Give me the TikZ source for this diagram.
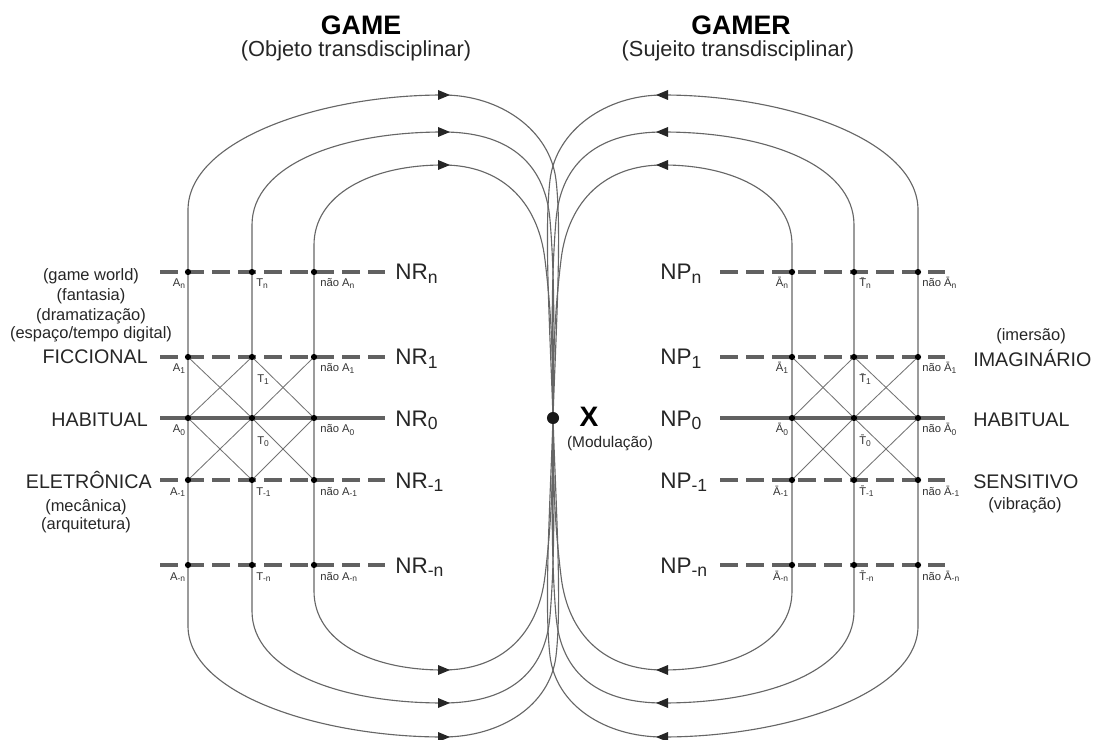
\documentclass[tikz,border=0pt]{standalone}
\usepackage{fontspec}
\setmainfont{Liberation Sans}
\def\dotat(#1){\fill (#1) circle (2.2pt);}
\def\tipright(#1,#2){\fill[black!85] (#1+7,#2) -- (#1-5,#2-5) -- (#1-5,#2+5) -- cycle;}
\def\tipleft(#1,#2){\fill[black!85] (#1-7,#2) -- (#1+5,#2-5) -- (#1+5,#2+5) -- cycle;}
\newcommand{\sublow}[1]{\raisebox{-2.5pt}{\fontsize{12.5}{13}\selectfont #1}}
\tikzset{
	level/.style={line width=2.6pt, color=black!62, dash pattern=on 12.5pt off 6pt},
	baseline0/.style={line width=2.6pt, color=black!62},
	field/.style={line width=0.8pt, color=black!60},
	cross/.style={line width=0.6pt, color=black!55},
	title/.style={font=\fontsize{19}{22}\selectfont\bfseries, inner sep=0pt},
	subtitle/.style={font=\fontsize{15.5}{18}\selectfont, text=black!85, inner sep=0pt},
	side/.style={font=\fontsize{14}{16}\selectfont, text=black!85, inner sep=0pt},
	note/.style={font=\fontsize{11.7}{13}\selectfont, text=black!85, inner sep=0pt},
	lvl/.style={font=\fontsize{16}{18}\selectfont, text=black!85, inner sep=0pt},
	tick/.style={font=\fontsize{8}{9}\selectfont, text=black!80, inner sep=0pt}
}

\begin{document}
\begin{tikzpicture}[x=0.025cm, y=-0.025cm]
			%%%%% START %%%%%
			\useasboundingbox (0,0) rectangle (1096,740);
			
			\coordinate (X) at (553,418);
			
			\coordinate (lAn) at (188,272); \coordinate (lTn) at (252,272); \coordinate (lNn) at (314,272);
			\coordinate (lA1) at (188,357); \coordinate (lT1) at (252,357); \coordinate (lN1) at (314,357);
			\coordinate (lA0) at (188,418); \coordinate (lT0) at (252,418); \coordinate (lN0) at (314,418);
			\coordinate (lAm1) at (188,480); \coordinate (lTm1) at (252,480); \coordinate (lNm1) at (314,480);
			\coordinate (lAmn) at (188,565); \coordinate (lTmn) at (252,565); \coordinate (lNmn) at (314,565);
			
			\coordinate (rAn) at (792,272); \coordinate (rTn) at (854,272); \coordinate (rNn) at (918,272);
			\coordinate (rA1) at (792,357); \coordinate (rT1) at (854,357); \coordinate (rN1) at (918,357);
			\coordinate (rA0) at (792,418); \coordinate (rT0) at (854,418); \coordinate (rN0) at (918,418);
			\coordinate (rAm1) at (792,480); \coordinate (rTm1) at (854,480); \coordinate (rNm1) at (918,480);
			\coordinate (rAmn) at (792,565); \coordinate (rTmn) at (854,565); \coordinate (rNmn) at (918,565);
			
			% titles
			\node[title, anchor=base] (game) at (361,35) {GAME};
			\node[subtitle, anchor=base] (gamesub) at (356,57) {(Objeto transdisciplinar)};
			\node[title, anchor=base] (gamer) at (741,35) {GAMER};
			\node[subtitle, anchor=base] (gamersub) at (738,57) {(Sujeito transdisciplinar)};
			
			% left loops
			\draw[field] (X) .. controls (556,330) and (562,230) .. (556,180)
				.. controls (550,130) and (500,95) .. (443,95)
				.. controls (320,95) and (188,140) .. (188,210) -- (188,626)
				.. controls (188,694) and (320,737) .. (443,737)
				.. controls (500,737) and (550,706) .. (556,656)
				.. controls (562,606) and (556,506) .. (X);
			\draw[field] (X) .. controls (554,340) and (555,280) .. (550,220)
				.. controls (545,160) and (505,132) .. (443,132)
				.. controls (340,132) and (252,165) .. (252,225) -- (252,611)
				.. controls (252,671) and (340,703) .. (443,703)
				.. controls (505,703) and (545,676) .. (550,616)
				.. controls (555,556) and (554,496) .. (X);
			\draw[field] (X) .. controls (553,350) and (551,310) .. (545,260)
				.. controls (538,200) and (500,165) .. (443,165)
				.. controls (370,165) and (314,195) .. (314,245) -- (314,591)
				.. controls (314,641) and (370,670) .. (443,670)
				.. controls (500,670) and (538,636) .. (545,576)
				.. controls (551,526) and (553,486) .. (X);
			
			% right loops
			\draw[field] (X) .. controls (550,330) and (544,230) .. (550,180)
				.. controls (556,130) and (606,95) .. (663,95)
				.. controls (786,95) and (918,140) .. (918,210) -- (918,626)
				.. controls (918,694) and (786,737) .. (663,737)
				.. controls (606,737) and (556,706) .. (550,656)
				.. controls (544,606) and (550,506) .. (X);
			\draw[field] (X) .. controls (552,340) and (551,280) .. (556,220)
				.. controls (561,160) and (601,132) .. (663,132)
				.. controls (766,132) and (854,165) .. (854,225) -- (854,611)
				.. controls (854,671) and (766,703) .. (663,703)
				.. controls (601,703) and (561,676) .. (556,616)
				.. controls (551,556) and (552,496) .. (X);
			\draw[field] (X) .. controls (553,350) and (555,310) .. (561,260)
				.. controls (568,200) and (606,165) .. (663,165)
				.. controls (736,165) and (792,195) .. (792,245) -- (792,591)
				.. controls (792,641) and (736,670) .. (663,670)
				.. controls (606,670) and (568,636) .. (561,576)
				.. controls (555,526) and (553,486) .. (X);
			
			\tipright(443,95); \tipright(443,132); \tipright(443,165);
			\tipright(443,670); \tipright(443,703); \tipright(443,737);
			\tipleft(663,95); \tipleft(663,132); \tipleft(663,165);
			\tipleft(663,670); \tipleft(663,703); \tipleft(663,737);
			
			% levels
			\draw[level] (160,272) -- (385,272);
			\draw[level] (160,357) -- (385,357);
			\draw[baseline0] (160,418) -- (385,418);
			\draw[level] (160,480) -- (385,480);
			\draw[level] (160,565) -- (385,565);
			
			\draw[level] (720,272) -- (945,272);
			\draw[level] (720,357) -- (945,357);
			\draw[baseline0] (720,418) -- (945,418);
			\draw[level] (720,480) -- (945,480);
			\draw[level] (720,565) -- (945,565);
			
			\draw[cross] (lA1) -- (lT0) -- (lNm1);
			\draw[cross] (lAm1) -- (lT0) -- (lN1);
			\draw[cross] (lA0) -- (lT1) -- (lN0);
			\draw[cross] (lA0) -- (lTm1) -- (lN0);
			
			\draw[cross] (rA1) -- (rT0) -- (rNm1);
			\draw[cross] (rAm1) -- (rT0) -- (rN1);
			\draw[cross] (rA0) -- (rT1) -- (rN0);
			\draw[cross] (rA0) -- (rTm1) -- (rN0);
			
			\dotat(lAn) \dotat(lTn) \dotat(lNn)
			\dotat(lA1) \dotat(lT1) \dotat(lN1)
			\dotat(lA0) \dotat(lT0) \dotat(lN0)
			\dotat(lAm1) \dotat(lTm1) \dotat(lNm1)
			\dotat(lAmn) \dotat(lTmn) \dotat(lNmn)
			\dotat(rAn) \dotat(rTn) \dotat(rNn)
			\dotat(rA1) \dotat(rT1) \dotat(rN1)
			\dotat(rA0) \dotat(rT0) \dotat(rN0)
			\dotat(rAm1) \dotat(rTm1) \dotat(rNm1)
			\dotat(rAmn) \dotat(rTmn) \dotat(rNmn)
			
			\fill[black!90] (X) circle (4.3pt);
			\node[title, font=\fontsize{20}{22}\selectfont\bfseries, anchor=base] (xlabel) at (589,427) {X};
			\node[note, font=\fontsize{11}{12}\selectfont, anchor=base] (modlabel) at (610,447) {(Modulação)};
			
			% level names
			\node[lvl, anchor=base west] (nrn) at (395,280) {NR\sublow{n}};
			\node[lvl, anchor=base west] (nr1) at (395,365) {NR\sublow{1}};
			\node[lvl, anchor=base west] (nr0) at (395,426) {NR\sublow{0}};
			\node[lvl, anchor=base west] (nrm1) at (395,488) {NR\sublow{-1}};
			\node[lvl, anchor=base west] (nrmn) at (395,573) {NR\sublow{-n}};
			\node[lvl, anchor=base west] (npn) at (660,280) {NP\sublow{n}};
			\node[lvl, anchor=base west] (np1) at (660,365) {NP\sublow{1}};
			\node[lvl, anchor=base west] (np0) at (660,426) {NP\sublow{0}};
			\node[lvl, anchor=base west] (npm1) at (660,488) {NP\sublow{-1}};
			\node[lvl, anchor=base west] (npmn) at (660,573) {NP\sublow{-n}};
			
			% left texts
			\node[note, anchor=base] (gw) at (91,281) {(game world)};
			\node[note, anchor=base] (fant) at (91,301) {(fantasia)};
			\node[note, anchor=base] (dram) at (91,321) {(dramatização)};
			\node[note, anchor=base] (espt) at (91,339) {(espaço/tempo digital)};
			\node[side, anchor=base east] (ficc) at (148,364) {FICCIONAL};
			\node[side, anchor=base east] (habl) at (148,426) {HABITUAL};
			\node[side, anchor=base east] (elet) at (152,488) {ELETRÔNICA};
			\node[note, anchor=base] (mec) at (86,511) {(mecânica)};
			\node[note, anchor=base] (arq) at (86,529) {(arquitetura)};
			
			% right texts
			\node[note, anchor=base] (imer) at (1031,341) {(imersão)};
			\node[side, anchor=base west] (imag) at (973,367) {IMAGINÁRIO};
			\node[side, anchor=base west] (habr) at (973,426) {HABITUAL};
			\node[side, anchor=base west] (sens) at (973,488) {SENSITIVO};
			\node[note, anchor=base] (vibr) at (1025,509) {(vibração)};
			
			% small labels left
			\node[tick, anchor=base east] at (186,287) {A\textsubscript{n}};
			\node[tick, anchor=base west] at (256,287) {T\textsubscript{n}};
			\node[tick, anchor=base west] at (320,287) {não A\textsubscript{n}};
			\node[tick, anchor=base east] at (186,372) {A\textsubscript{1}};
			\node[tick, anchor=base west] at (257,383) {T\textsubscript{1}};
			\node[tick, anchor=base west] at (320,372) {não A\textsubscript{1}};
			\node[tick, anchor=base east] at (186,433) {A\textsubscript{0}};
			\node[tick, anchor=base west] at (257,444) {T\textsubscript{0}};
			\node[tick, anchor=base west] at (320,433) {não A\textsubscript{0}};
			\node[tick, anchor=base east] at (186,495) {A\textsubscript{-1}};
			\node[tick, anchor=base west] at (256,495) {T\textsubscript{-1}};
			\node[tick, anchor=base west] at (320,495) {não A\textsubscript{-1}};
			\node[tick, anchor=base east] at (186,580) {A\textsubscript{-n}};
			\node[tick, anchor=base west] at (256,580) {T\textsubscript{-n}};
			\node[tick, anchor=base west] at (320,580) {não A\textsubscript{-n}};
			
			% small labels right
			\node[tick, anchor=base east] at (789,287) {\={A}\textsubscript{n}};
			\node[tick, anchor=base west] at (859,287) {\={T}\textsubscript{n}};
			\node[tick, anchor=base west] at (922,287) {não \={A}\textsubscript{n}};
			\node[tick, anchor=base east] at (789,372) {\={A}\textsubscript{1}};
			\node[tick, anchor=base west] at (859,383) {\={T}\textsubscript{1}};
			\node[tick, anchor=base west] at (922,372) {não \={A}\textsubscript{1}};
			\node[tick, anchor=base east] at (789,433) {\={A}\textsubscript{0}};
			\node[tick, anchor=base west] at (859,444) {\={T}\textsubscript{0}};
			\node[tick, anchor=base west] at (922,433) {não \={A}\textsubscript{0}};
			\node[tick, anchor=base east] at (789,495) {\={A}\textsubscript{-1}};
			\node[tick, anchor=base west] at (859,495) {\={T}\textsubscript{-1}};
			\node[tick, anchor=base west] at (922,495) {não \={A}\textsubscript{-1}};
			\node[tick, anchor=base east] at (789,580) {\={A}\textsubscript{-n}};
			\node[tick, anchor=base west] at (859,580) {\={T}\textsubscript{-n}};
			\node[tick, anchor=base west] at (922,580) {não \={A}\textsubscript{-n}};
			
			%%%%% END %%%%%
\end{tikzpicture}
\end{document}
